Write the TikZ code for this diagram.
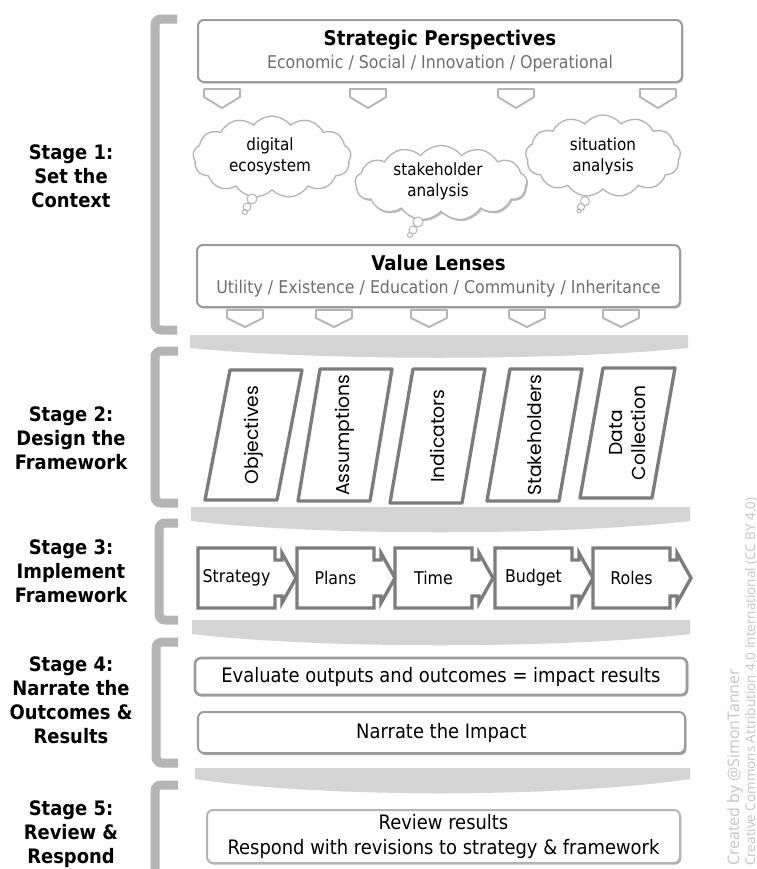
\documentclass[tikz,border=0pt]{standalone}
\usepackage{fontspec}
\setmainfont{DejaVu Sans Condensed}
\newfontfamily\geofont{Poppins}
\newfontfamily\markfont{Open Sans}
\usetikzlibrary{shapes.symbols,shadows}
\definecolor{bracketgray}{HTML}{B4B4B4}
\definecolor{bandgray}{HTML}{D4D4D4}
\definecolor{edgegray}{HTML}{9C9C9C}
\definecolor{stepgray}{HTML}{7C7C7C}
\definecolor{subgray}{HTML}{6E6E6E}
\definecolor{markgray}{HTML}{C6C6C6}
\begin{document}
\begin{tikzpicture}[x=0.3mm,y=-0.3mm,
    bracketline/.style={draw=bracketgray,line width=2.7mm,rounded corners=1.8mm},
    bandfill/.style={fill=bandgray},
    tabshape/.style={draw=bracketgray,fill=white,line width=0.55mm,line join=round},
    panel/.style={draw=edgegray,fill=white,line width=0.6mm,rounded corners=1.8mm,
      drop shadow={shadow xshift=0.4mm,shadow yshift=-0.5mm,opacity=0.45},inner sep=0pt,align=center},
    thought/.style={cloud,cloud puffs=13,cloud puff arc=105,draw=bracketgray,fill=white,
      line width=0.4mm,inner sep=0pt},
    cloudtext/.style={align=center,font=\fontsize{14.4}{18}\selectfont},
    bubble/.style={draw=bracketgray,fill=white,line width=0.3mm},
    stagelabel/.style={align=center,font=\bfseries\fontsize{17}{20.5}\selectfont},
    slanted/.style={draw=stepgray,fill=white,line width=1mm,line join=round},
    slanttext/.style={rotate=90,align=center,font=\geofont\fontsize{16}{19}\selectfont},
    stepline/.style={draw=stepgray,fill=white,line width=1mm},
    steptext/.style={font=\fontsize{15}{18}\selectfont},
    headtext/.style={font=\fontsize{15}{19.6}\selectfont},
    boxfont/.style={font=\fontsize{17}{20.5}\selectfont}]
  \path[fill=white,use as bounding box] (0,0) rectangle (757,869);

  \draw[bracketline] (177,19) -- (155,19) -- (155,330) -- (177,330);
  \draw[bracketline] (178,351) -- (155,351) -- (155,503) -- (178,503);
  \draw[bracketline] (178,523) -- (159,523) -- (159,620) -- (178,620);
  \draw[bracketline] (178,642) -- (156,642) -- (156,763) -- (178,763);
  \draw[bracketline] (178,785) -- (155,785) -- (155,880);

  \node[stagelabel] (stageone) at (71,176) {Stage 1:\\Set the\\Context};
  \node[stagelabel] (stagetwo) at (71,438) {Stage 2:\\Design the\\Framework};
  \node[stagelabel] (stagethree) at (71,571) {Stage 3:\\Implement\\Framework};
  \node[stagelabel] (stagefour) at (71,700) {Stage 4:\\Narrate the\\Outcomes \&\\Results};
  \node[stagelabel] (stagefive) at (71,834) {Stage 5:\\Review \&\\Respond};

  \fill[bandfill] (190,335) -- (688,335) -- (688,348) .. controls (560,361) and (320,361) .. (190,348) -- cycle;
  \fill[bandfill] (191,507) -- (690,507) -- (690,521) .. controls (560,536) and (320,536) .. (191,521) -- cycle;
  \fill[bandfill] (192,620) -- (690,620) -- (690,634) .. controls (560,649) and (320,649) .. (192,634) -- cycle;
  \fill[bandfill] (195,768) -- (690,768) -- (690,779) .. controls (560,798) and (320,798) .. (195,779) -- cycle;

  \foreach \cx in {222,368,516,658}
    \draw[tabshape] (\cx-18,89) -- (\cx+18,89) -- (\cx+18,97) -- (\cx,108) -- (\cx-18,97) -- cycle;
  \node[panel,headtext,minimum width=145.2mm,minimum height=18.6mm] (perspectives) at (440,51)
    {{\bfseries\fontsize{17.3}{19.6}\selectfont Strategic Perspectives}\\
     {\color{subgray}\fontsize{15}{19.6}\selectfont Economic / Social / Innovation / Operational}};

  \node[thought,minimum width=47.4mm,minimum height=24.6mm] (ecosystemcloud) at (272,157) {};
  \node[cloudtext] (ecosystem) at (270,156) {digital\\ecosystem};
  \node[thought,minimum width=46.5mm,minimum height=24.6mm] (situationcloud) at (603,156) {};
  \node[cloudtext] (situation) at (603,156) {situation\\analysis};
  \node[thought,minimum width=51.6mm,minimum height=22.5mm,
    drop shadow={shadow xshift=0.4mm,shadow yshift=-0.5mm,opacity=0.5}] (stakeholdercloud) at (441,183) {};
  \node[cloudtext] (stakeholder) at (438,181) {stakeholder\\analysis};
  \draw[bubble] (252,199) circle (5) (247,207) circle (4) (245,212) circle (2.5);
  \draw[bubble] (418,222) circle (5) (413,230) circle (4) (410,235) circle (2.5);
  \draw[bubble] (585,201) circle (4.5) (581,207) circle (3.5) (579,211) circle (2);

  \foreach \cx in {245,334,429,527,621}
    \draw[tabshape] (\cx-18,310) -- (\cx+18,310) -- (\cx+18,318) -- (\cx,327) -- (\cx-18,318) -- cycle;
  \node[panel,headtext,minimum width=144.9mm,minimum height=18.6mm] (lenses) at (438.5,276)
    {{\bfseries\fontsize{17.3}{19.6}\selectfont Value Lenses}\\
     {\color{subgray}\fontsize{15}{19.6}\selectfont Utility / Existence / Education / Community / Inheritance}};

  \foreach \tx/\ty/\by/\sk/\name/\txt in {230/370/500/25/objectives/Objectives,
      320/369/501/22/assumptions/Assumptions, 413/369/503/23/indicators/Indicators,
      510/369/501/23/stakeholders/Stakeholders, 603/368/498/23/datacollection/{Data\\Collection}} {
    \draw[slanted] (\tx,\ty) -- (\tx+72,\ty) -- (\tx+72-\sk,\by) -- (\tx-\sk,\by) -- cycle;
    \node[slanttext] (\name) at ({\tx+36-\sk/2},{(\ty+\by)/2}) {\txt};
  }

  \foreach \x/\name/\txt in {198/strategy/Strategy, 297/plans/Plans, 395/time/Time,
      495/budget/Budget, 593/roles/Roles} {
    \draw[stepline] (\x,548) -- ++(77,0) -- ++(0,12) -- ++(7,0) -- ++(0,-7) -- ++(14,25)
      -- ++(-14,25) -- ++(0,-7) -- ++(-7,0) -- ++(0,12) -- ++(-77,0) -- cycle;
    \node[steptext] (\name) at (\x+38.5,578) {\txt};
  }

  \node[panel,boxfont,minimum width=147.6mm,minimum height=11.1mm,line width=0.8mm] (evaluate) at (441,676.5)
    {Evaluate outputs and outcomes = impact results};
  \node[panel,boxfont,minimum width=146.1mm,minimum height=12.3mm,
    drop shadow={shadow xshift=0.4mm,shadow yshift=-0.6mm,opacity=0.6}] (narrate) at (441.5,732.5)
    {Narrate the Impact};
  \node[panel,boxfont,minimum width=141.9mm,minimum height=15.9mm,draw=bracketgray,
    drop shadow={shadow xshift=0.3mm,shadow yshift=-0.4mm,opacity=0.25}] (review) at (443.5,836.5)
    {Review results\\Respond with revisions to strategy \& framework};

  \node[rotate=90,anchor=west,inner sep=0pt,text=markgray,font=\markfont\fontsize{13.6}{14}\selectfont]
    (credit) at (735,866) {Created by @SimonTanner};
  \node[rotate=90,anchor=west,inner sep=0pt,text=markgray,font=\markfont\fontsize{11.5}{12}\selectfont]
    (licence) at (751,866) {Creative Commons Attribution 4.0 International (CC BY 4.0)};
\end{tikzpicture}
\end{document}
